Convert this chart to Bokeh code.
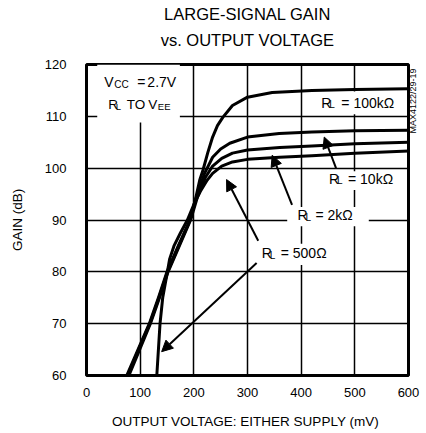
from bokeh.plotting import figure
from bokeh.models import (Label, Arrow, NormalHead, BoxAnnotation, FixedTicker, Range1d,
                          LinearAxis)
from bokeh.embed import file_html
from bokeh.resources import INLINE

# ---------------- data ----------------
x_ticks = [0, 100, 200, 300, 400, 500, 600]
y_ticks = [60, 70, 80, 90, 100, 110, 120]

# R_L = 100k
v_100k = [75, 96, 117, 134, 150, 171, 193, 203, 211, 217, 226, 235, 244, 254, 272, 300, 346, 420, 500, 600]
g_100k = [60, 65, 70, 75, 80, 85, 90, 94, 97.7, 99.6, 103, 106, 108.2, 109.8, 112.1, 113.7, 114.6, 115.0, 115.2, 115.3]
# R_L = 10k
v_10k = [77, 97, 118, 135, 151, 172, 193, 205, 220, 235, 250, 267, 300, 359, 420, 500, 600]
g_10k = [60, 65, 70, 75, 80, 85, 90, 94.5, 99, 102.1, 103.7, 104.8, 106.0, 106.7, 107.0, 107.2, 107.3]
# R_L = 2k
v_2k = [79, 99, 119, 136, 152, 173, 194, 207, 222, 235, 252, 272, 300, 360, 420, 500, 600]
g_2k = [60, 65, 70, 75, 80, 85, 90, 94.5, 98.3, 100.4, 101.9, 102.9, 103.5, 104.0, 104.3, 104.7, 105.0]
# R_L = 500
v_500 = [131, 134, 137, 142, 149, 155, 163, 175, 188, 200, 212, 225, 235, 252, 272, 300, 360, 420, 500, 600]
g_500 = [60, 65, 70, 75, 79, 82.5, 85, 87.5, 90, 93, 95.5, 97.7, 99.0, 100.4, 101.2, 101.7, 102.1, 102.4, 102.9, 103.3]

title_1 = "LARGE-SIGNAL GAIN"
title_2 = "vs. OUTPUT VOLTAGE"
x_title = "OUTPUT VOLTAGE:  EITHER SUPPLY (mV)"
y_title = "GAIN (dB)"
code_text = "MAX4122/29-19"

FONT = "Liberation Sans"

p = figure(width=426, height=431, output_backend="svg", toolbar_location=None,
           x_range=Range1d(0, 600), y_range=Range1d(60, 120),
           min_border_left=86, min_border_right=16, min_border_top=64, min_border_bottom=55)
p.background_fill_color = "white"
p.border_fill_color = "white"
p.outline_line_color = "black"
p.outline_line_width = 3


def plain_axis(ax):
    ax.axis_line_color = None
    ax.major_tick_line_color = None
    ax.minor_tick_line_color = None
    ax.major_tick_in = 0
    ax.major_tick_out = 0
    ax.minor_tick_in = 0
    ax.minor_tick_out = 0
    ax.major_label_text_font = FONT
    ax.major_label_text_color = "black"
    ax.axis_label_text_font = FONT
    ax.axis_label_text_font_style = "normal"
    ax.axis_label_text_color = "black"


xb = p.below[0]
yl = p.left[0]
for ax, ticks in ((xb, x_ticks), (yl, y_ticks)):
    ax.ticker = FixedTicker(ticks=ticks)
    plain_axis(ax)
    ax.major_label_text_font_size = "13px"
xb.major_label_standoff = 12
yl.major_label_standoff = 20
xb.axis_label = x_title
xb.axis_label_text_font_size = "13.5px"
xb.axis_label_standoff = 14
yl.axis_label = y_title
yl.axis_label_text_font_size = "13.5px"
yl.axis_label_standoff = 17

# two-line heading, drawn by an axis above the frame
top_ax = LinearAxis(ticker=FixedTicker(ticks=[300]), major_label_overrides={300: title_2},
                    axis_label=title_1)
plain_axis(top_ax)
top_ax.major_label_text_font_size = "16.5px"
top_ax.axis_label_text_font_size = "16.5px"
top_ax.major_label_standoff = 16
top_ax.axis_label_standoff = 5
p.add_layout(top_ax, "above")

# small vertical drawing code at the right
right_ax = LinearAxis(ticker=FixedTicker(ticks=[106.7]), major_label_overrides={106.7: code_text},
                      major_label_orientation=1.5708)
plain_axis(right_ax)
right_ax.major_label_text_font_size = "9px"
right_ax.major_label_standoff = 5
p.add_layout(right_ax, "right")

p.xgrid.ticker = FixedTicker(ticks=x_ticks)
p.ygrid.ticker = FixedTicker(ticks=y_ticks)
for g in (p.xgrid, p.ygrid):
    g.grid_line_color = "black"
    g.grid_line_width = 1.5
    g.grid_line_alpha = 1

# white boxes behind annotation texts (interrupt grid lines)
for l, r, b, t in [(20, 174, 108.8, 120), (430, 585, 110.4, 114.8), (444, 567, 95.8, 99.4),
                   (374, 526, 88.8, 92.5), (318, 463, 81.3, 85.4)]:
    p.add_layout(BoxAnnotation(left=l, right=r, bottom=b, top=t, fill_color="white",
                               fill_alpha=1, line_alpha=0, level="underlay"))

for vx, gy in ((v_100k, g_100k), (v_10k, g_10k), (v_2k, g_2k), (v_500, g_500)):
    p.line(vx, gy, line_color="black", line_width=3, line_join="round", line_cap="round")


def txt(x, y, s, size, font=FONT, xo=0, yo=0):
    p.add_layout(Label(x=x, y=y, text=s, text_font=font, text_font_size=f"{size}px",
                       text_align="left", text_baseline="alphabetic",
                       x_offset=xo, y_offset=yo, text_color="black"))


def rich(x, y, pieces, lift=4):
    for s, dx, dy, size in pieces:
        txt(x, y, s, size, xo=dx, yo=dy + lift)


# in-plot annotations
rich(33.3, 115.77, [("V", 0, 0, 14), ("CC", 10, -2, 10), ("=", 33, 0, 14), ("2.7V", 43, 0, 14)])
rich(40.7, 111.6, [("R", 0, 0, 13.5), ("L", 7.5, -2, 9.5), ("TO", 18.5, 0, 13.5), ("V", 40, 0, 13.5),
                   ("EE", 49.5, -2, 9.5)])
rich(437.6, 111.54, [("R", 0, 0, 14), ("L", 8, -2, 10), ("= 100kΩ", 20, 0, 14)], lift=5.5)
rich(451.9, 96.9, [("R", 0, 0, 14), ("L", 8, -2, 10), ("= 10kΩ", 19, 0, 14)], lift=5.5)
rich(393.1, 89.87, [("R", 0, 0, 14), ("L", 8, -2, 10), ("= 2kΩ", 18, 0, 14)], lift=5.5)
rich(326.5, 82.5, [("R", 0, 0, 14), ("L", 8, -2, 10), ("= 500Ω", 19, 0, 14)], lift=5.5)

for xs, ys, xe, ye in [(465, 100.0, 443, 106.0), (383, 92.9, 346, 102.5),
                       (320, 86.0, 261, 97.8), (317, 81.7, 140, 64.6)]:
    p.add_layout(Arrow(end=NormalHead(size=11, fill_color="black", line_color="black"),
                       x_start=xs, y_start=ys, x_end=xe, y_end=ye,
                       line_width=2, line_color="black"))

open("out.html", "w").write(file_html(p, INLINE))
